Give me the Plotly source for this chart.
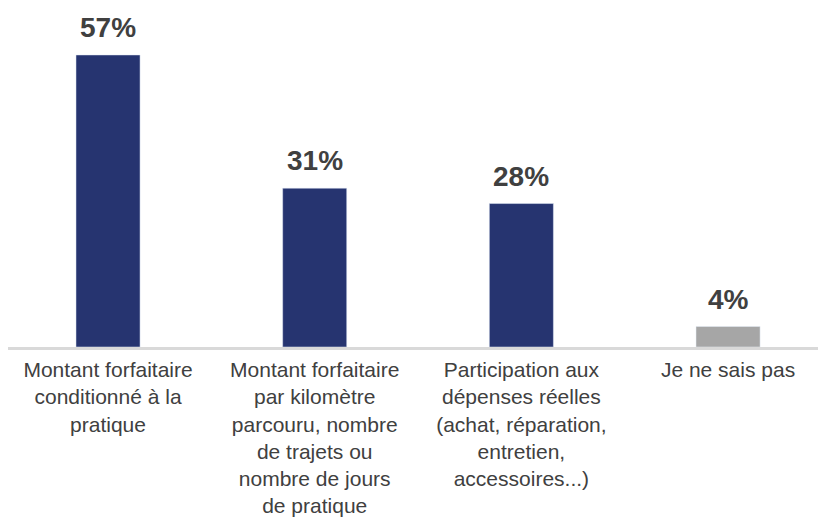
import plotly.graph_objects as go

categories = [
    "Montant forfaitaire<br>conditionné à la<br>pratique",
    "Montant forfaitaire<br>par kilomètre<br>parcouru, nombre<br>de trajets ou<br>nombre de jours<br>de pratique",
    "Participation aux<br>dépenses réelles<br>(achat, réparation,<br>entretien,<br>accessoires...)",
    "Je ne sais pas",
]
values = [57, 31, 28, 4]
labels = ["57%", "31%", "28%", "4%"]
colors = ["#263470", "#263470", "#263470", "#A6A6A6"]

fig = go.Figure(go.Bar(x=categories, y=values, marker_color=colors, width=0.31,
                       hoverinfo="skip"))

for c, v, t in zip(categories, values, labels):
    fig.add_annotation(x=c, y=v, text="<b>%s</b>" % t, showarrow=False,
                       yanchor="bottom", yshift=10,
                       font=dict(family="Liberation Sans, Arial", size=28, color="#404040"))

fig.update_layout(
    width=818, height=517,
    margin=dict(l=0, r=0, t=7, b=178),
    plot_bgcolor="white", paper_bgcolor="white",
    showlegend=False,
    font=dict(family="Liberation Sans, Arial", size=21, color="#404040"),
    xaxis=dict(showline=True, linecolor="#D9D9D9", linewidth=2.5, ticks="",
               range=[-0.484, 3.474], ticklabelstandoff=2,
               tickfont=dict(size=21, color="#404040"), fixedrange=True),
    yaxis=dict(range=[0, 64.8], visible=False, showgrid=False, fixedrange=True),
)

fig.write_html("out.html")
